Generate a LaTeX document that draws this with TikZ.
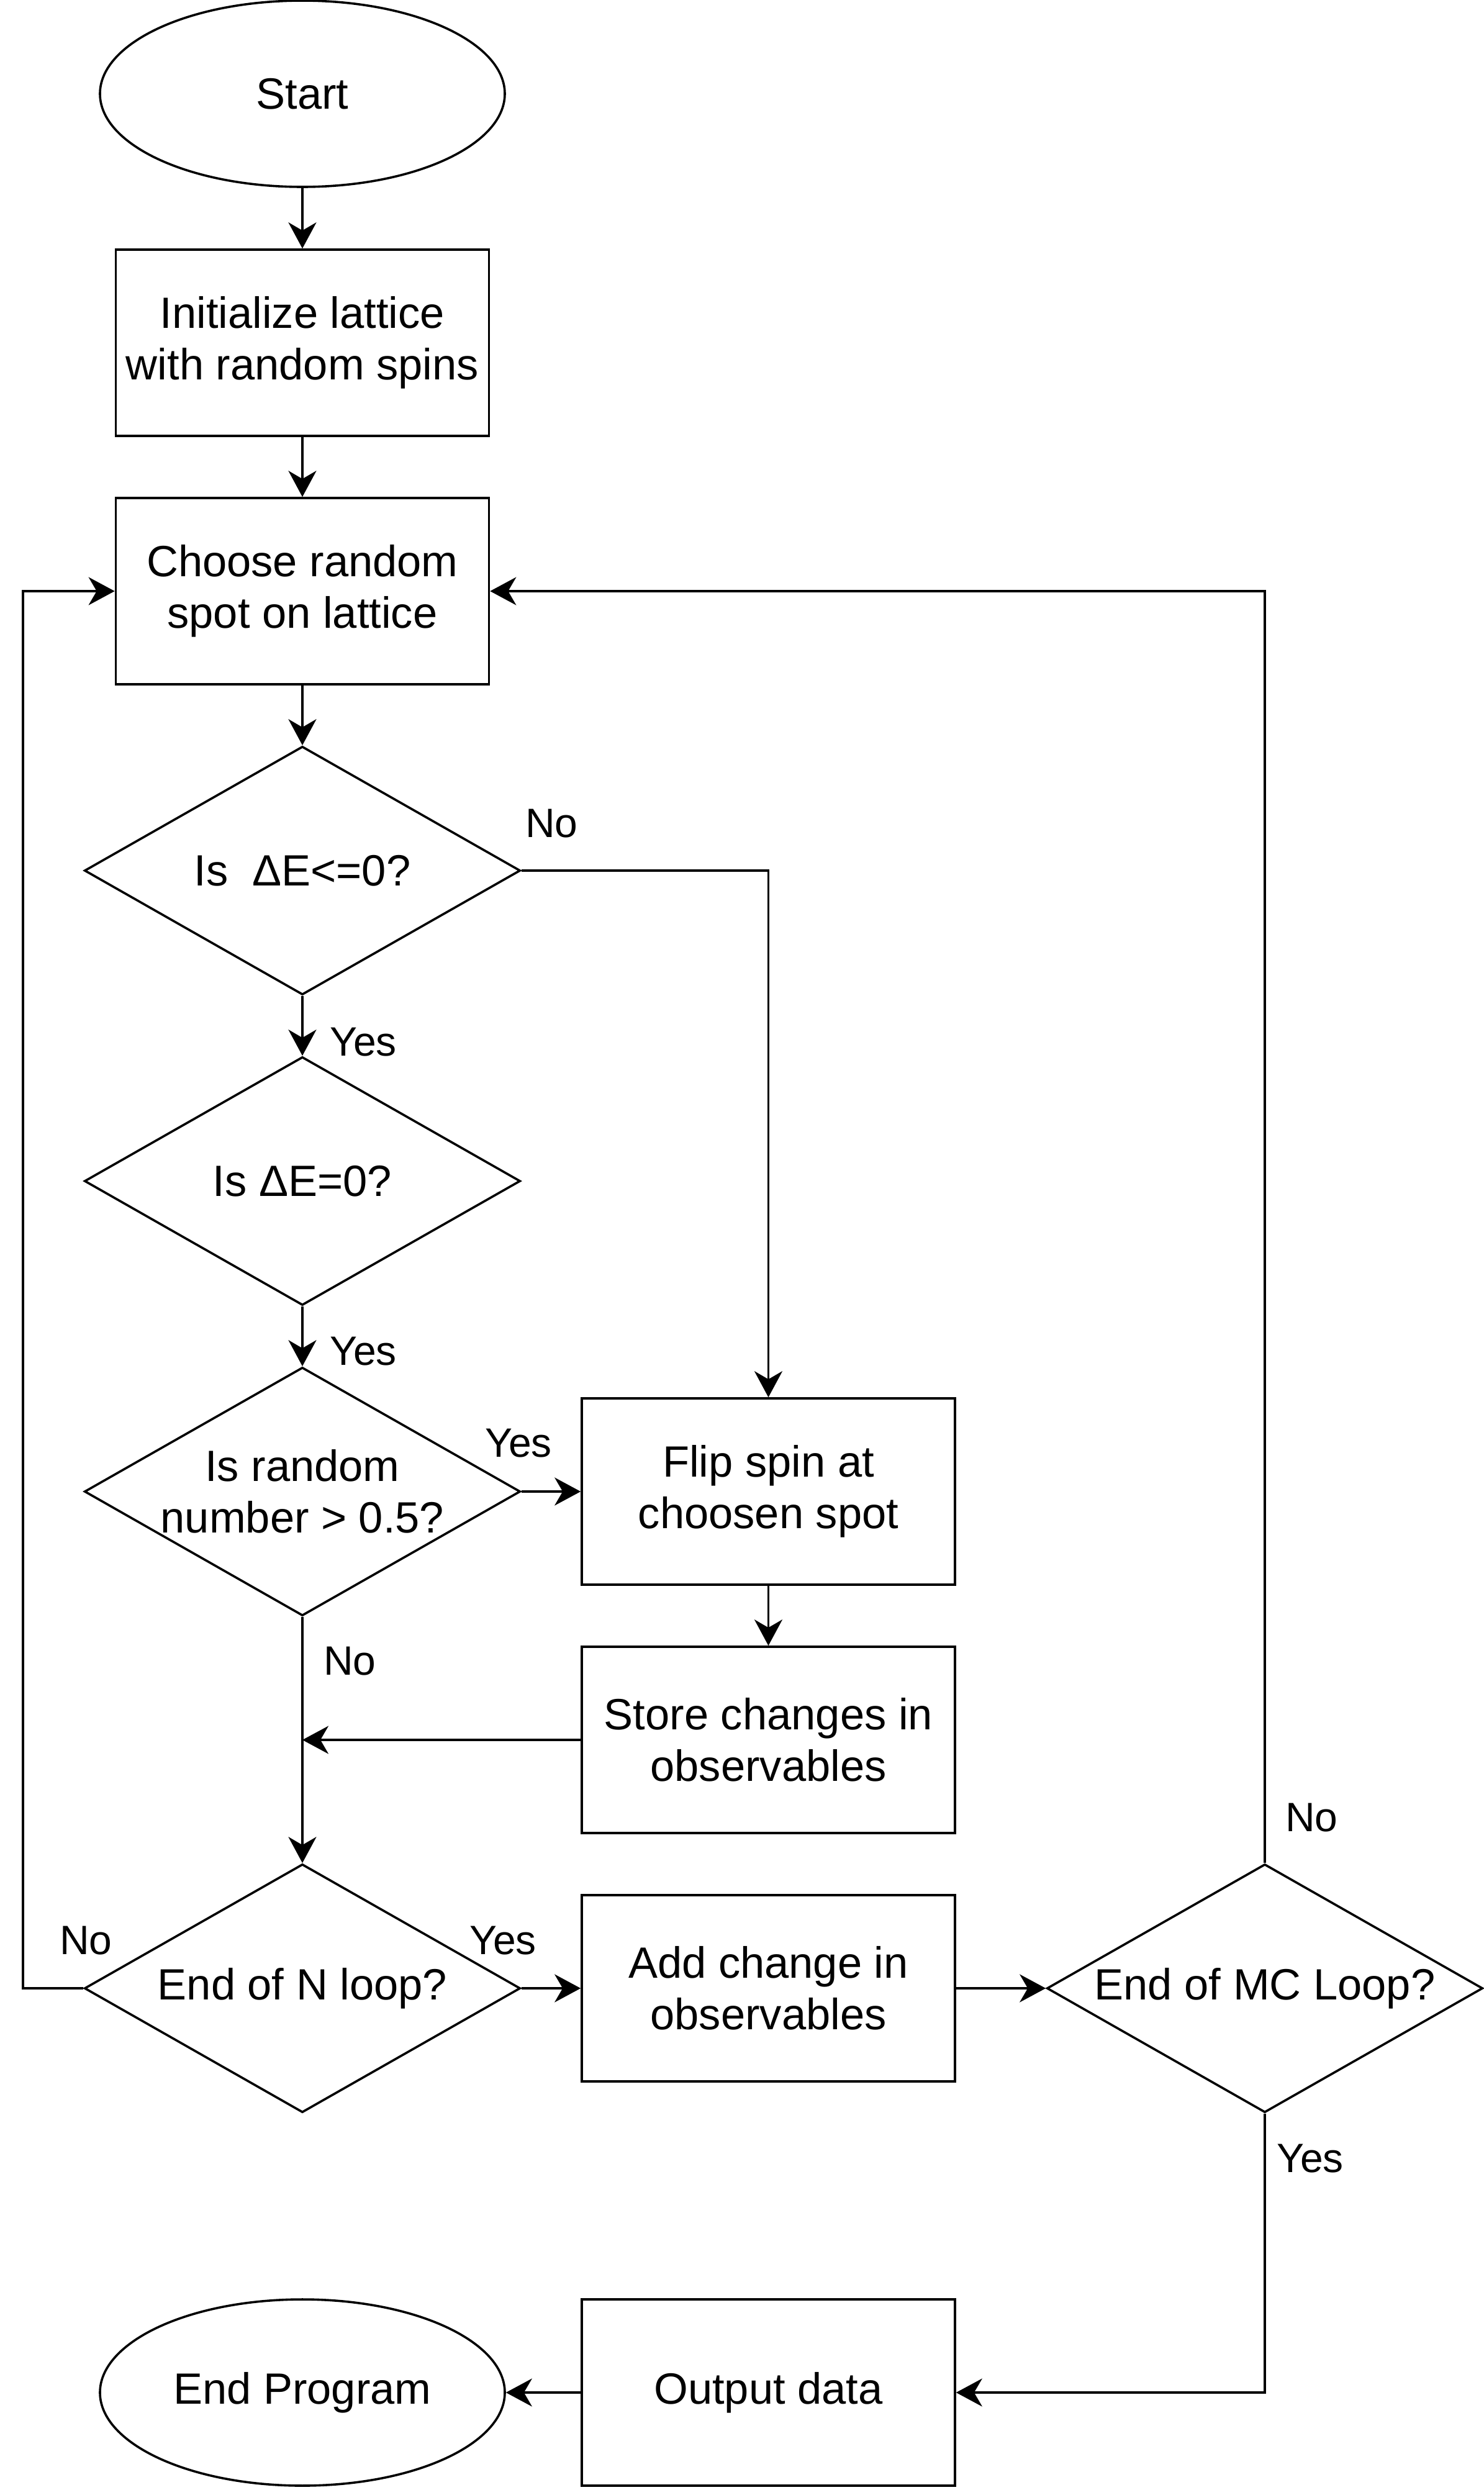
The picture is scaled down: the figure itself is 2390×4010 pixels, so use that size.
\documentclass[tikz,border=0pt]{standalone}
\usepackage{fontspec}
\setmainfont{Liberation Sans}
\usetikzlibrary{shapes.geometric,arrows.meta}
\begin{document}
\begin{tikzpicture}[x=1pt,y=-1pt,
  every node/.style={font=\fontsize{70.5}{83}\selectfont},
  ln/.style={line width=3.6pt},
  box/.style={draw,ln,rectangle,minimum width=601pt,minimum height=300pt,inner sep=0pt,align=center},
  oval/.style={draw,ln,ellipse,minimum width=652pt,minimum height=300pt,inner sep=0pt,align=center},
  dia/.style={draw,ln,diamond,minimum width=702pt,minimum height=400pt,inner sep=0pt},
  dtext/.style={align=center,inner sep=0pt},
  lbl/.style={font=\fontsize{66}{77}\selectfont,inner sep=0pt,anchor=west},
  arr/.style={ln,-{Stealth[length=42pt,width=45pt,inset=13pt]}}
]
\fill[white] (0,0) rectangle (2390,4010);
\useasboundingbox (0,0) rectangle (2390,4010);

% nodes
\node[oval] (start) at (487,151) {Start};
\node[box] (init) at (487,552) {Initialize lattice\\with random spins};
\node[box] (choose) at (487,952) {Choose random\\spot on lattice};
\node[dia] (d1) at (487,1402) {};
\node[dtext] (t1) at (d1.center) {Is\ \ ΔE<=0?};
\node[dia] (d2) at (487,1902) {};
\node[dtext] (t2) at (d2.center) {Is ΔE=0?};
\node[dia] (d3) at (487,2402) {};
\node[dtext] (t3) at (d3.center) {Is random\\number > 0.5?};
\node[box] (flip) at (1237.5,2402) {Flip spin at\\choosen spot};
\node[box] (store) at (1237.5,2802) {Store changes in\\observables};
\node[dia] (d4) at (487,3202) {};
\node[dtext] (t4) at (d4.center) {End of N loop?};
\node[box] (add) at (1237.5,3202) {Add change in\\observables};
\node[dia] (mc) at (2037,3202) {};
\node[dtext] (t5) at (mc.center) {End of MC Loop?};
\node[box] (output) at (1237.5,3853) {Output data};
\node[oval] (end) at (487,3853) {End Program};
\coordinate (lx) at (37,3202);

% connectors
\draw[arr] (start) -- (init);
\draw[arr] (init) -- (choose);
\draw[arr] (choose) -- (d1);
\draw[arr] (d1) -- (d2);
\draw[arr] (d2) -- (d3);
\draw[arr] (d1.east) -| (flip.north);
\draw[arr] (d3.east) -- (flip.west);
\draw[arr] (flip) -- (store);
\draw[arr] (d3.south) -- (d4.north);
\draw[arr] (store.west) -- (store.west -| d3.south);
\draw[arr] (d4.west) -- (lx) |- (choose.west);
\draw[arr] (d4.east) -- (add.west);
\draw[arr] (add.east) -- (mc.west);
\draw[arr] (mc.north) |- (choose.east);
\draw[arr] (mc.south) |- (output.east);
\draw[arr] (output.west) -- (end.east);

% labels
\node[lbl] (l1) at (846,1326) {No};
\node[lbl] (l2) at (531,1678) {Yes};
\node[lbl] (l3) at (531,2176) {Yes};
\node[lbl] (l4) at (781,2324) {Yes};
\node[lbl] (l5) at (521,2675) {No};
\node[lbl] (l6) at (96,3125) {No};
\node[lbl] (l7) at (756,3125) {Yes};
\node[lbl] (l8) at (2070,2927) {No};
\node[lbl] (l9) at (2056,3476) {Yes};
\end{tikzpicture}
\end{document}
